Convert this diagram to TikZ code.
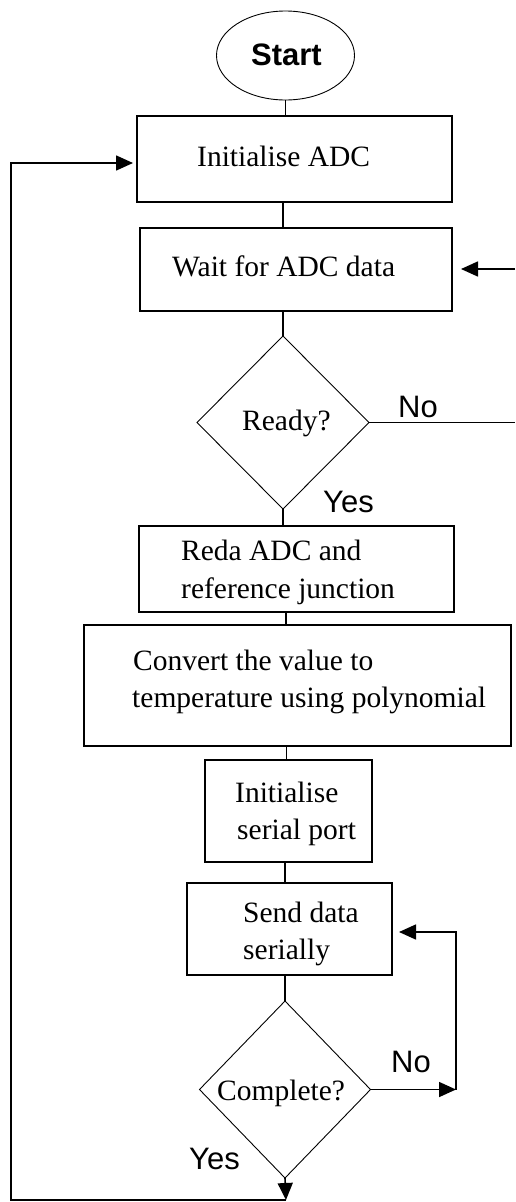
\documentclass[tikz,border=0pt]{standalone}
\usepackage{fontspec}
\setmainfont{Liberation Serif}
\newfontfamily\labelsans{Liberation Sans}
\usetikzlibrary{shapes.geometric,arrows.meta,calc}

\begin{document}
\begin{tikzpicture}[x=1pt,y=-1pt,
  box/.style={draw, line width=1.8pt, rectangle, inner sep=0pt, outer sep=0pt},
  decision/.style={draw, line width=0.9pt, diamond, inner sep=0pt, outer sep=0pt},
  term/.style={draw, line width=0.9pt, ellipse, inner sep=0pt, outer sep=0pt},
  txt/.style={anchor=base west, inner sep=0pt, font=\fontsize{29.5}{36}\selectfont},
  ans/.style={anchor=base west, inner sep=0pt, font=\labelsans\fontsize{31}{36}\selectfont},
  flow/.style={line width=1.6pt},
  arr/.style={flow, -{Triangle[length=17pt,width=15pt]}}
]
\useasboundingbox (0,0) rectangle (515,1202);

% shapes of the flow
\node[term, minimum width=138pt, minimum height=89pt] (start) at (285.5,55.5) {};
\node[anchor=base, inner sep=0pt, font=\labelsans\bfseries\fontsize{31}{36}\selectfont] (tstart) at (286.5,65) {Start};

\node[box, minimum width=315pt, minimum height=86pt] (init) at (294.5,159) {};
\node[box, minimum width=312pt, minimum height=83pt] (wait) at (296,269.5) {};
\node[decision, minimum width=172pt, minimum height=173pt] (ready) at (283,422.5) {};
\node[box, minimum width=315pt, minimum height=86pt] (reda) at (296.5,569) {};
\node[box, minimum width=427pt, minimum height=121pt] (conv) at (297.5,685.5) {};
\node[box, minimum width=167pt, minimum height=102pt] (ser) at (288.5,811) {};
\node[box, minimum width=205pt, minimum height=92pt] (send) at (289.5,929) {};
\node[decision, minimum width=171pt, minimum height=177pt] (comp) at (285,1089.5) {};

% texts inside the shapes
\node[txt] (t1) at (197,166) {Initialise ADC};
\node[txt] (t2) at (172,276) {Wait for ADC data};
\node[txt] (t3) at (242,430) {Ready?};
\node[txt] (t4a) at (181,560) {Reda ADC and};
\node[txt] (t4b) at (181,598) {reference junction};
\node[txt] (t5a) at (133,670) {Convert the value to};
\node[txt] (t5b) at (132,707) {temperature using polynomial};
\node[txt] (t6a) at (235,802) {Initialise};
\node[txt] (t6b) at (237,839) {serial port};
\node[txt] (t7a) at (243,922) {Send data};
\node[txt] (t7b) at (243,959) {serially};
\node[txt] (t8) at (217,1100) {Complete?};

% branch labels
\node[ans] (no1) at (398,417) {No};
\node[ans] (yes1) at (323,512.5) {Yes};
\node[ans] (no2) at (391,1072) {No};
\node[ans] (yes2) at (189,1169) {Yes};

% free ends and corners of the connectors
\coordinate (waitin) at (515,269);
\coordinate (readyout) at (515,0);
\coordinate (cnr) at (456,0);
\coordinate (bot) at (286,1200);
\coordinate (lft) at (11,1200);

% straight links
\draw[flow] (start.south) -- (start.south |- init.north);
\draw[flow] (init.south -| ready.north) -- (wait.north -| ready.north);
\draw[flow] (wait.south -| ready.north) -- (ready.north);
\draw[flow] (ready.south) -- (ready.south |- reda.north);
\draw[flow] (reda.south -| 286,0) -- (conv.north -| 286,0);
\draw[flow] (conv.south -| 286.5,0) -- (ser.north -| 286.5,0);
\draw[flow] (ser.south -| comp.north) -- (send.north -| comp.north);
\draw[flow] (send.south -| comp.north) -- (comp.north);

% Ready? branches
\draw[flow] (ready.east) -- (ready.east -| readyout);
\draw[arr, shorten >=9pt] (waitin) -- (wait.east |- waitin);

% Complete? branches
\draw[arr] (comp.east) -- (comp.east -| cnr);
\draw[arr, shorten >=7pt] (comp.east -| cnr) |- ([yshift=-3pt]send.east);
\draw[arr] (comp.south) -- (bot);
\draw[arr, shorten >=4pt] (bot) -- (lft) |- ([yshift=-4pt]init.west);
\end{tikzpicture}
\end{document}
